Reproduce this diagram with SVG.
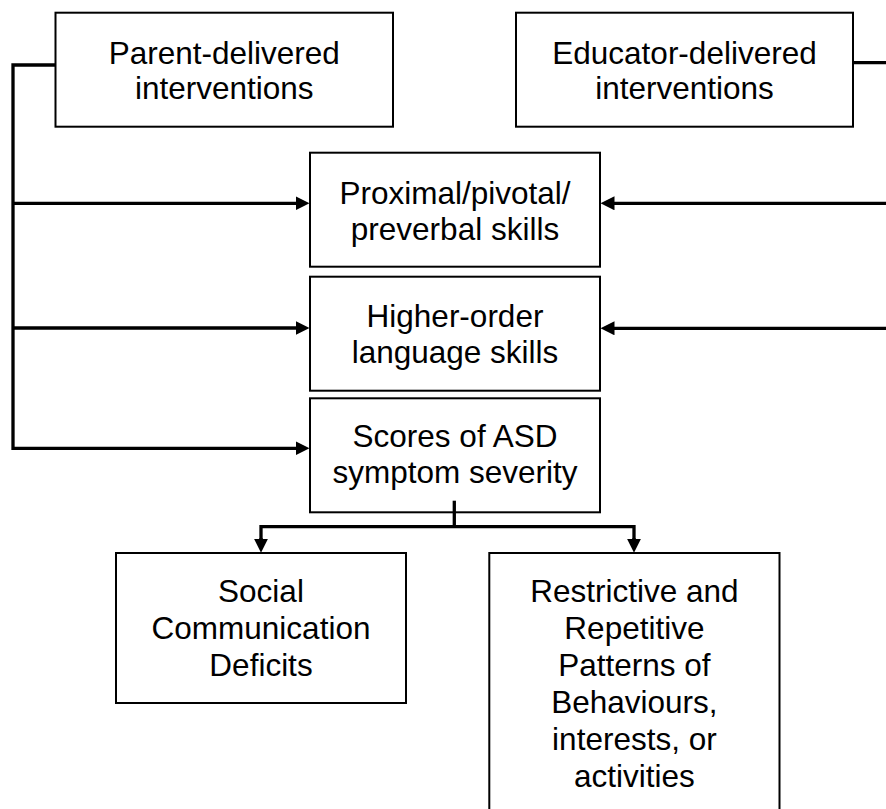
<svg xmlns="http://www.w3.org/2000/svg" width="886" height="809" viewBox="0 0 886 809">
  <style>
    .box { fill: #ffffff; stroke: #000000; stroke-width: 2; }
    .label { font-family: "Liberation Sans", Arial, sans-serif; font-size: 31.5px; fill: #000000; text-anchor: middle; }
    .wire { fill: none; stroke: #000000; stroke-width: 3.3; stroke-linecap: butt; stroke-linejoin: miter; }
  </style>
  <defs>
    <!-- solid triangular arrowhead; the line stops 12px short of the tip -->
    <marker id="arrow" viewBox="0 -7 14 14" refX="2" refY="0" markerWidth="14" markerHeight="14" markerUnits="userSpaceOnUse" orient="auto">
      <path d="M0,-7 L14,0 L0,7 Z" fill="#000000"/>
    </marker>
  </defs>

  <rect width="886" height="809" fill="#ffffff"/>

  <g id="parent">
    <rect class="box" x="55.5" y="12.7" width="337.5" height="114"/>
    <text class="label" x="224.3" y="63.5">Parent-delivered</text>
    <text class="label" x="224.3" y="99">interventions</text>
  </g>

  <g id="educator">
    <rect class="box" x="516" y="12.7" width="337" height="114"/>
    <text class="label" x="684.5" y="63.5">Educator-delivered</text>
    <text class="label" x="684.5" y="99">interventions</text>
  </g>

  <g id="proximal">
    <rect class="box" x="310" y="152.7" width="290" height="114"/>
    <text class="label" x="455" y="204">Proximal/pivotal/</text>
    <text class="label" x="455" y="240">preverbal skills</text>
  </g>

  <g id="higher-order">
    <rect class="box" x="310" y="276.7" width="290" height="114"/>
    <text class="label" x="455" y="327">Higher-order</text>
    <text class="label" x="455" y="362.5">language skills</text>
  </g>

  <g id="severity">
    <rect class="box" x="310" y="398.3" width="290" height="114"/>
    <text class="label" x="455" y="446.5">Scores of ASD</text>
    <text class="label" x="455" y="482.5">symptom severity</text>
  </g>

  <g id="social">
    <rect class="box" x="116" y="553" width="290" height="150"/>
    <text class="label" x="261" y="602">Social</text>
    <text class="label" x="261" y="639">Communication</text>
    <text class="label" x="261" y="676">Deficits</text>
  </g>

  <g id="restrictive">
    <rect class="box" x="489.3" y="553" width="290.2" height="270"/>
    <text class="label" x="634.4" y="602">Restrictive and</text>
    <text class="label" x="634.4" y="639">Repetitive</text>
    <text class="label" x="634.4" y="676">Patterns of</text>
    <text class="label" x="634.4" y="713">Behaviours,</text>
    <text class="label" x="634.4" y="750">interests, or</text>
    <text class="label" x="634.4" y="787">activities</text>
  </g>

  <!-- connectors, drawn over the boxes so the split stem shows inside the severity box -->
  <g id="connectors">
    <!-- parent-delivered feed on the left -->
    <path class="wire" d="M55.5,65 H13 V448.3 H297.5" marker-end="url(#arrow)"/>
    <path class="wire" d="M13,203.3 H297.5" marker-end="url(#arrow)"/>
    <path class="wire" d="M13,328 H297.5" marker-end="url(#arrow)"/>
    <!-- educator-delivered feed on the right -->
    <path class="wire" d="M853,62.7 H886"/>
    <path class="wire" d="M886,203.3 H612.5" marker-end="url(#arrow)"/>
    <path class="wire" d="M886,328.3 H612.5" marker-end="url(#arrow)"/>
    <!-- split below symptom severity -->
    <path class="wire" d="M454.3,500.7 V526.7"/>
    <path class="wire" d="M261,540.7 V526.7 H634 V540.7"/>
    <path class="wire" d="M261,538 V540.7" marker-end="url(#arrow)"/>
    <path class="wire" d="M634,538 V540.7" marker-end="url(#arrow)"/>
  </g>
</svg>
